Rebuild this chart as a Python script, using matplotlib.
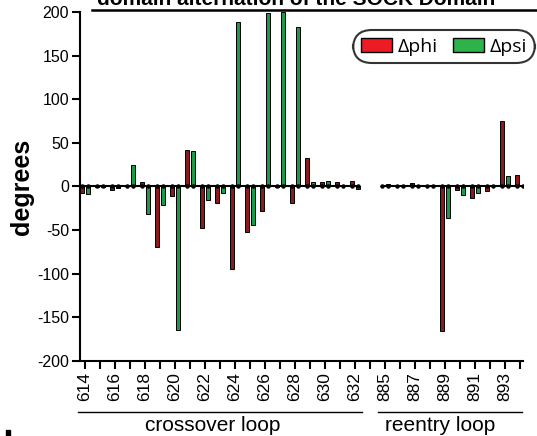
import numpy as np
import matplotlib.pyplot as plt
from matplotlib.patches import Rectangle

plt.rcParams['font.family'] = ['Liberation Sans', 'DejaVu Sans']

# Data
crossover_res = list(range(614, 633))
crossover_phi = [-7, -1, -4, 0, 5, -69, -11, 42, -48, -19, -95, -52, -28, -1, -19, 33, 5, 5, 6]
crossover_psi = [-9, -1, -2, 25, -32, -21, -165, 41, -16, -7, 188, -44, 199, 200, 183, 5, 6, 0, -3]

reentry_res = list(range(885, 895))
reentry_phi = [0, 0, 4, 2, -166, -4, -13, -5, 75, 13]
reentry_psi = [3, 2, 2, 0, -36, -10, -8, 1, 12, 0]

yticks = [-200, -150, -100, -50, 0, 50, 100, 150, 200]

red = '#8b1a1c'
green = '#1d9a49'

fig = plt.figure(figsize=(5.37, 4.36), dpi=100)
ax = fig.add_axes([80/537, 75/436, 443/537, 349/436])

# slot positions: crossover 0..18, one empty slot, reentry 20..29
x_cross = np.arange(len(crossover_res))
x_re = np.arange(len(reentry_res)) + len(crossover_res) + 1
w = 0.3
off = 0.2

for xs, phi, psi in [(x_cross, crossover_phi, crossover_psi), (x_re, reentry_phi, reentry_psi)]:
    ax.bar(xs - off, phi, w, color=red, edgecolor='black', linewidth=0.7, zorder=2)
    ax.bar(xs + off, psi, w, color=green, edgecolor='black', linewidth=0.7, zorder=2)
    # zero line with dots
    pts = np.sort(np.concatenate([xs - off, xs + off]))
    ax.plot(pts, np.zeros_like(pts), color='black', lw=1.5, marker='o', ms=2.2, zorder=3)

ax.set_xlim(-1/3, 29.2)
ax.set_ylim(-200, 200)
ax.set_yticks(yticks)
ax.set_yticklabels([str(t) for t in yticks], fontsize=11.5)

all_x = np.arange(0, 30)
ax.set_xticks(all_x)
labels = []
for i in all_x:
    if i < 19 and i % 2 == 0:
        labels.append(str(crossover_res[i]))
    elif i >= 20 and (i - 20) % 2 == 0:
        labels.append(str(reentry_res[i - 20]))
    else:
        labels.append('')
ax.set_xticklabels(labels, rotation=90, fontsize=12.5)

for s in ['top', 'right']:
    ax.spines[s].set_visible(False)
for s in ['left', 'bottom']:
    ax.spines[s].set_linewidth(1.5)
ax.tick_params(axis='both', direction='out', length=6, width=1.5, pad=2)

ax.set_ylabel('degrees', fontsize=18, fontweight='bold', labelpad=2)

# group brackets below the axis
fig.add_artist(plt.Line2D([78/537, 362/537], [1 - 412/436, 1 - 412/436], color='black', lw=1))
fig.add_artist(plt.Line2D([378/537, 522/537], [1 - 412/436, 1 - 412/436], color='black', lw=1))
fig.text(213/537, 1 - 425/436, 'crossover loop', fontsize=15, ha='center', va='center')
fig.text(440/537, 1 - 425/436, 'reentry loop', fontsize=15, ha='center', va='center')

# title (cut off at the top edge, as in the source) and its underline
fig.text(97/537, 1 - 5/436, 'domain alternation of the SOCK Domain', fontsize=15,
         fontweight='bold', ha='left', va='baseline')
fig.add_artist(plt.Line2D([92/537, 1.0], [1 - 10/436, 1 - 10/436], color='black', lw=1.8))

# small mark at bottom left
fig.add_artist(Rectangle((6/537, 0), 4/537, 6/436, color='black'))

# legend
h1 = Rectangle((0, 0), 1, 1, facecolor='#ed1c24', edgecolor='black', lw=1)
h2 = Rectangle((0, 0), 1, 1, facecolor='#2db34a', edgecolor='black', lw=1)
leg = fig.legend([h1, h2], ['\u0394phi', '\u0394psi'], loc='upper left',
                 bbox_to_anchor=(345/537, 1 - 22/436), ncol=2, frameon=True,
                 fancybox=True, handlelength=1.6, handleheight=0.75,
                 handletextpad=0.3, columnspacing=0.8, borderpad=0.3,
                 prop={'family': 'Open Sans', 'size': 14})
fr = leg.get_frame()
fr.set_edgecolor('black')
fr.set_linewidth(1.5)
fr.set_boxstyle('round', pad=0.1, rounding_size=1.0)

fig.savefig('out.png', dpi=100)
